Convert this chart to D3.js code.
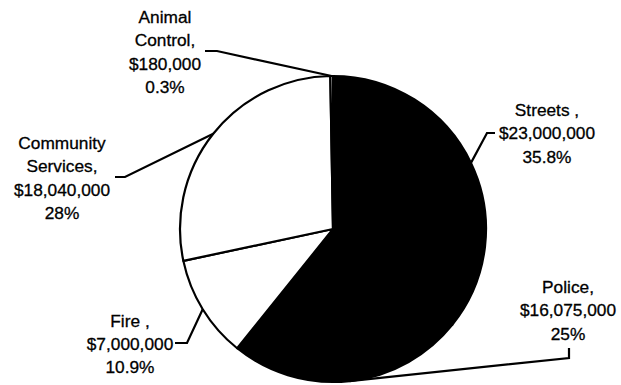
<!DOCTYPE html>
<html>
<head>
<meta charset="utf-8">
<script src="https://cdn.jsdelivr.net/npm/d3@7"></script>
<style>
  html, body { margin: 0; padding: 0; background: #fff; }
  svg { display: block; }
  text { font-family: "Liberation Sans", Arial, sans-serif; font-size: 17.3px; fill: #000; stroke: #000; stroke-width: 0.3px; }
</style>
</head>
<body>
<svg id="chart" width="621" height="385"></svg>
<script>
// Budget by department
const departments = ["Streets", "Police", "Fire", "Community Services", "Animal Control"];
const nameLines = [["Streets ,"], ["Police,"], ["Fire ,"], ["Community", "Services,"], ["Animal", "Control,"]];
const amounts = [23000000, 16075000, 7000000, 18040000, 180000];
const percentLabels = ["35.8%", "25%", "10.9%", "28%", "0.3%"];
const fills = ["#000000", "#000000", "#ffffff", "#ffffff", "#ffffff"];

// Label placement: text centre, first baseline, and leader start / elbow
const labelLayout = [
  { x: 547, y: 116, start: [495, 133], elbow: [487, 133] },
  { x: 568, y: 293, start: [569, 348], elbow: [569, 358] },
  { x: 130, y: 326.5, start: [175, 343], elbow: [187, 343] },
  { x: 62,  y: 149, start: [115, 177], elbow: [125, 177] },
  { x: 165, y: 23,  start: [205, 51],  elbow: [217, 51] }
];

const cx = 333, cy = 229, radius = 153, lineGap = 23.4;
const svg = d3.select("#chart");

const pie = d3.pie().sort(null).value(d => d.amount);
const rows = departments.map((name, i) => ({ name, amount: amounts[i], i }));
const arcs = pie(rows);

const arc = d3.arc().innerRadius(0).outerRadius(radius);
const rim = d3.arc().innerRadius(radius).outerRadius(radius);

const g = svg.append("g").attr("transform", `translate(${cx},${cy})`);

g.selectAll("path.slice")
  .data(arcs)
  .join("path")
  .attr("class", "slice")
  .attr("d", arc)
  .attr("fill", d => fills[d.data.i])
  .attr("stroke", "#000")
  .attr("stroke-width", 2.2)
  .attr("stroke-linejoin", "round");

// Leader lines from each label to the slice's outer rim
const line = d3.line();
svg.selectAll("path.leader")
  .data(arcs)
  .join("path")
  .attr("class", "leader")
  .attr("fill", "none")
  .attr("stroke", "#000")
  .attr("stroke-width", 2.2)
  .attr("d", d => {
    const L = labelLayout[d.data.i];
    const c = rim.centroid(d);
    return line([L.start, L.elbow, [cx + c[0], cy + c[1]]]);
  });

const money = d3.format("$,");
svg.selectAll("text.label")
  .data(arcs)
  .join("text")
  .attr("class", "label")
  .attr("text-anchor", "middle")
  .each(function (d) {
    const i = d.data.i;
    const L = labelLayout[i];
    const lines = [...nameLines[i], money(amounts[i]), percentLabels[i]];
    d3.select(this).selectAll("tspan")
      .data(lines)
      .join("tspan")
      .attr("x", L.x)
      .attr("y", (t, k) => L.y + k * lineGap)
      .text(t => t);
  });
</script>
</body>
</html>
